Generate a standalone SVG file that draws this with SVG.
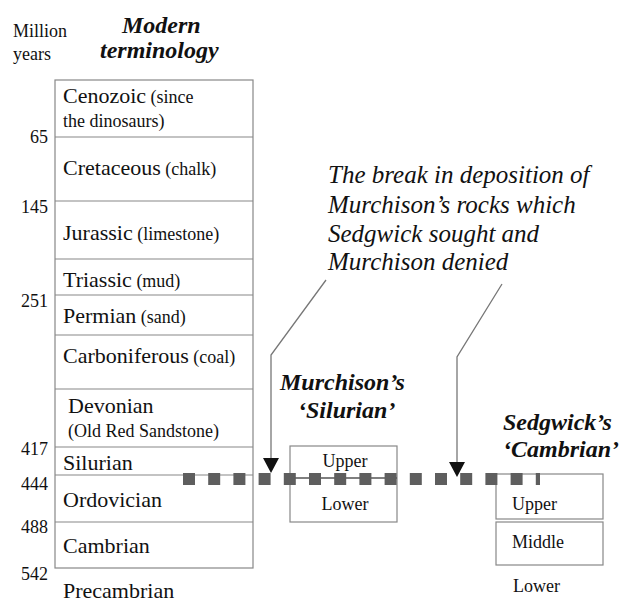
<svg xmlns="http://www.w3.org/2000/svg" width="623" height="603" viewBox="0 0 623 603" font-family="Liberation Serif">
<style>
.t{fill:#111}
.big{font-size:22px}
.sm{font-size:18px}
.num{font-size:18px;text-anchor:end}
.bi{font-weight:bold;font-style:italic;font-size:24px}
.it{font-style:italic;font-size:25px}
.box{fill:none;stroke:#888;stroke-width:1.2}
.conn{fill:none;stroke:#777;stroke-width:1.3}
.head{fill:#111;stroke:none}
</style>
<rect width="623" height="603" fill="#fff"/>

<g id="headings">
<text class="t" font-family="Liberation Serif" x="13" y="37" font-size="18">Million</text>
<text class="t" font-family="Liberation Serif" x="13" y="60" font-size="18">years</text>
<text class="t bi" font-family="Liberation Serif" x="122" y="33">Modern</text>
<text class="t bi" font-family="Liberation Serif" x="100" y="58">terminology</text>
</g>

<g id="ages">
<text class="t num" font-family="Liberation Serif" x="48" y="143">65</text>
<text class="t num" font-family="Liberation Serif" x="48" y="213">145</text>
<text class="t num" font-family="Liberation Serif" x="48" y="307">251</text>
<text class="t num" font-family="Liberation Serif" x="48" y="455">417</text>
<text class="t num" font-family="Liberation Serif" x="48" y="490">444</text>
<text class="t num" font-family="Liberation Serif" x="48" y="533">488</text>
<text class="t num" font-family="Liberation Serif" x="48" y="580">542</text>
</g>

<g id="table">
<rect class="box" x="55" y="80" width="198" height="488"/>
<g id="cenozoic"><line class="box" x1="55" y1="137" x2="253" y2="137"/>
<text class="t" font-family="Liberation Serif" x="63" y="103"><tspan class="big">Cenozoic</tspan><tspan class="sm"> (since</tspan></text>
<text class="t sm" font-family="Liberation Serif" x="63" y="127">the dinosaurs)</text></g>
<g id="cretaceous"><line class="box" x1="55" y1="201" x2="253" y2="201"/>
<text class="t" font-family="Liberation Serif" x="63" y="175"><tspan class="big">Cretaceous</tspan><tspan class="sm"> (chalk)</tspan></text></g>
<g id="jurassic"><line class="box" x1="55" y1="259" x2="253" y2="259"/>
<text class="t" font-family="Liberation Serif" x="63" y="240"><tspan class="big">Jurassic</tspan><tspan class="sm"> (limestone)</tspan></text></g>
<g id="triassic"><line class="box" x1="55" y1="295" x2="253" y2="295"/>
<text class="t" font-family="Liberation Serif" x="63" y="287"><tspan class="big">Triassic</tspan><tspan class="sm"> (mud)</tspan></text></g>
<g id="permian"><line class="box" x1="55" y1="335" x2="253" y2="335"/>
<text class="t" font-family="Liberation Serif" x="63" y="323"><tspan class="big">Permian</tspan><tspan class="sm"> (sand)</tspan></text></g>
<g id="carboniferous"><line class="box" x1="55" y1="389" x2="253" y2="389"/>
<text class="t" font-family="Liberation Serif" x="63" y="363"><tspan class="big">Carboniferous</tspan><tspan class="sm"> (coal)</tspan></text></g>
<g id="devonian"><line class="box" x1="55" y1="447" x2="253" y2="447"/>
<text class="t big" font-family="Liberation Serif" x="68" y="413">Devonian</text>
<text class="t sm" font-family="Liberation Serif" x="68" y="437">(Old Red Sandstone)</text></g>
<g id="silurian"><line class="box" x1="55" y1="475" x2="253" y2="475"/>
<text class="t big" font-family="Liberation Serif" x="63" y="470">Silurian</text></g>
<g id="ordovician"><line class="box" x1="55" y1="522" x2="253" y2="522"/>
<text class="t big" font-family="Liberation Serif" x="63" y="507">Ordovician</text></g>
<g id="cambrian"><text class="t big" font-family="Liberation Serif" x="63" y="553">Cambrian</text></g>
<g id="precambrian"><text class="t big" font-family="Liberation Serif" x="63" y="598">Precambrian</text></g>
</g>

<g id="annotation">
<text class="t it" font-family="Liberation Serif" x="328" y="183">The break in deposition of</text>
<text class="t it" font-family="Liberation Serif" x="328" y="213">Murchison&#8217;s rocks which</text>
<text class="t it" font-family="Liberation Serif" x="328" y="242">Sedgwick sought and</text>
<text class="t it" font-family="Liberation Serif" x="328" y="270">Murchison denied</text>
</g>

<g id="murchison">
<text class="t bi" font-family="Liberation Serif" x="280" y="390" font-size="23">Murchison&#8217;s</text>
<text class="t bi" font-family="Liberation Serif" x="298" y="418" font-size="23">&#8216;Silurian&#8217;</text>
<rect class="box" x="290" y="446" width="107" height="76"/>
<line x1="290" y1="478" x2="397" y2="478" stroke="#555" stroke-width="1.5"/>
<text class="t sm" font-family="Liberation Serif" x="345" y="467" text-anchor="middle" font-size="19">Upper</text>
<text class="t sm" font-family="Liberation Serif" x="345" y="510" text-anchor="middle" font-size="19">Lower</text>
</g>

<g id="sedgwick">
<text class="t bi" font-family="Liberation Serif" x="503" y="430">Sedgwick&#8217;s</text>
<text class="t bi" font-family="Liberation Serif" x="503" y="457">&#8216;Cambrian&#8217;</text>
<rect class="box" x="496" y="474" width="107" height="45"/>
<rect class="box" x="496" y="522" width="107" height="43"/>
<text class="t sm" font-family="Liberation Serif" x="512" y="510" font-size="19">Upper</text>
<text class="t sm" font-family="Liberation Serif" x="512" y="548" font-size="19">Middle</text>
<text class="t sm" font-family="Liberation Serif" x="513" y="592" font-size="19">Lower</text>
</g>

<g id="connectors">
<line x1="183" y1="479" x2="540" y2="479" stroke="#5e5e5e" stroke-width="12" stroke-dasharray="12 13.2"/>
<polyline class="conn" points="326,280 271,355 271,460"/>
<polygon class="head" points="263,458 279,458 271,473"/>
<polyline class="conn" points="502,284 457,357 457,464"/>
<polygon class="head" points="449,462 465,462 457,477"/>
</g>
</svg>
